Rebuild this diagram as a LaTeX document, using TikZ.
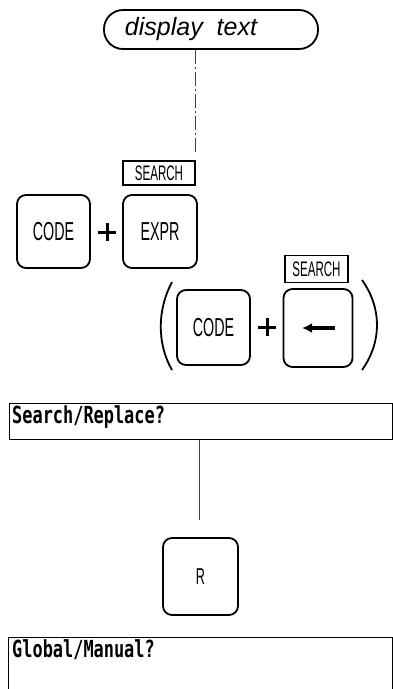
\documentclass[tikz,border=0pt]{standalone}
\usepackage{fontspec}
\setmainfont{Liberation Sans}
\newfontfamily\keyfamily[FakeStretch=0.55]{Liberation Sans}
\newfontfamily\termfamily[FakeStretch=0.72]{DejaVu Sans Mono}
\usetikzlibrary{arrows.meta}
\begin{document}
\begin{tikzpicture}[x=1pt,y=-1pt,
  keybox/.style={draw, line width=1.8pt, rounded corners=9pt, inner sep=0pt,
    font=\keyfamily\fontsize{26}{26}\selectfont},
  searchbox/.style={draw, line width=1.8pt, inner sep=0pt,
    font=\keyfamily\fontsize{21}{21}\selectfont},
  displaybox/.style={draw, line width=1.8pt, rounded corners=19pt, inner sep=0pt,
    minimum width=214pt, minimum height=39pt,
    font=\itshape\fontsize{25}{25}\selectfont},
  termbox/.style={draw, line width=1.1pt, inner sep=0pt, anchor=north west},
  termtext/.style={anchor=north west, inner sep=0pt,
    font=\termfamily\bfseries\fontsize{23.5}{23.5}\selectfont},
  thinline/.style={line width=0.6pt, black!75},
  plusline/.style={line width=3pt},
  paren/.style={line width=1.8pt},
  arrowglyph/.style={line width=3.4pt, -{Latex[length=10pt,width=10pt]}}
]
\useasboundingbox (0,0) rectangle (393,689);
\clip (0,0) rectangle (393,689);

% display text
\node[displaybox] (disp) at (211,29.5) {display\ \ text\kern40pt};
\coordinate (t1) at (195,152);
\draw[thinline, dash pattern=on 14pt off 3pt on 2pt off 3pt] (t1 |- disp.south) -- (t1);

% first group
\node[searchbox, minimum width=72pt, minimum height=24pt] (s1) at (159,173) {SEARCH};
\node[keybox, minimum width=73pt, minimum height=73pt] (code1) at (53.5,231.5) {CODE};
\node[keybox, minimum width=74pt, minimum height=73pt] (expr) at (160,231.5) {EXPR};
\coordinate (p1) at (107,232);
\draw[plusline] ([xshift=-9pt]p1) -- ([xshift=9pt]p1)
                ([yshift=-9pt]p1) -- ([yshift=9pt]p1);

% second group
\node[searchbox, minimum width=63pt, minimum height=27pt] (s2) at (316.5,269) {SEARCH};
\node[keybox, minimum width=73pt, minimum height=75pt] (code2) at (213.5,327.5) {CODE};
\node[keybox, minimum width=69pt, minimum height=78pt] (ak) at (318,328) {};
\draw[arrowglyph] ([xshift=17pt]ak.center) -- ([xshift=-16pt]ak.center);
\coordinate (p2) at (267,327);
\draw[plusline] ([xshift=-9pt]p2) -- ([xshift=9pt]p2)
                ([yshift=-9pt]p2) -- ([yshift=9pt]p2);
\draw[paren] (172,282) .. controls (157,310) and (157,344) .. (172,370);
\draw[paren] (362,280) .. controls (382,308) and (382,342) .. (362,370);

% Search/Replace box
\node[termbox, minimum width=383pt, minimum height=36pt] (sr) at (9,403) {};
\node[termtext] (srt) at ([xshift=3pt,yshift=-2pt]sr.north west) {Search/Replace?};

% R key
\node[keybox, minimum width=75pt, minimum height=77pt,
  font=\keyfamily\fontsize{23}{23}\selectfont] (r) at (200.5,576.5) {R};
\coordinate (t2) at (199,520);
\draw[thinline] (t2 |- sr.south) -- (t2);

% Global/Manual box
\node[termbox, minimum width=384pt, minimum height=70pt] (gm) at (8,637) {};
\node[termtext] (gmt) at ([xshift=4pt,yshift=-2pt]gm.north west) {Global/Manual?};
\end{tikzpicture}
\end{document}
